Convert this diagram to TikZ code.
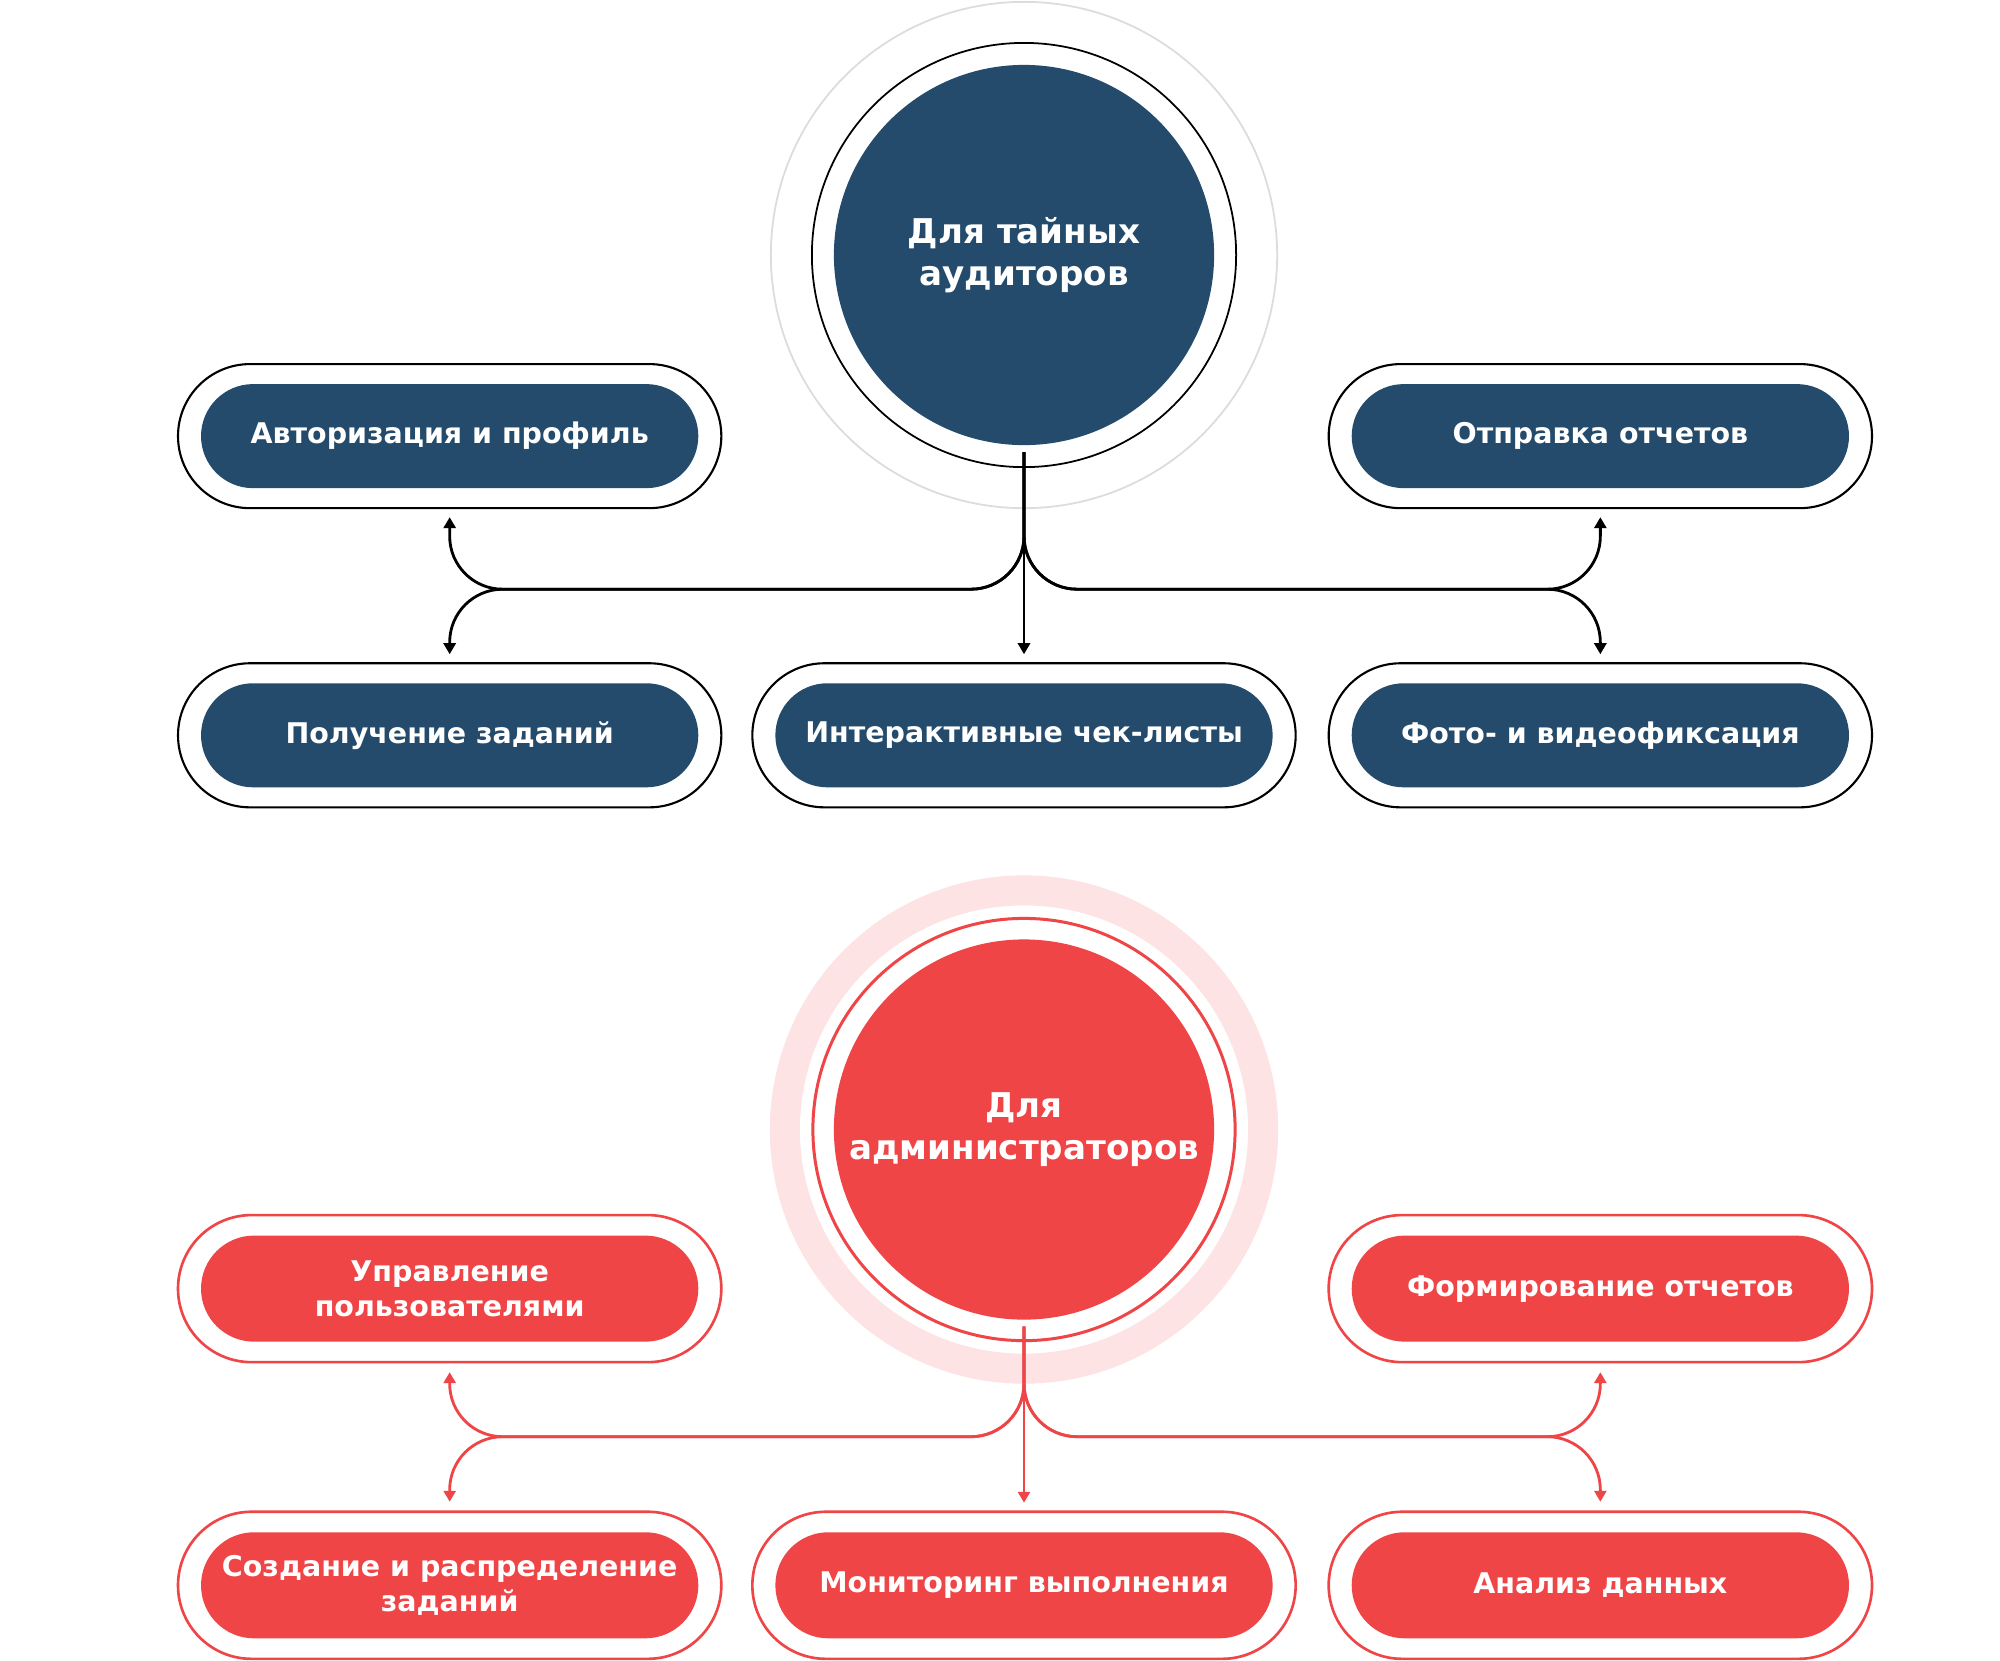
\documentclass[tikz,border=0pt]{standalone}
\usepackage{fontspec}
\setmainfont{DejaVu Sans}
\usetikzlibrary{arrows.meta,positioning}
\definecolor{navy}{HTML}{244B6B}
\definecolor{alert}{HTML}{EF4547}
\definecolor{blush}{HTML}{FDE3E4}
\definecolor{mist}{HTML}{DCDCDC}
\tikzstyle{disk} = [circle,inner sep=0,outer sep=0,minimum size=3.8cm,text=white,align=center,font=\bfseries\fontsize{9.7}{11.95}\selectfont]
\tikzstyle{ring} = [circle,inner sep=0,outer sep=0,minimum size=4.24cm]
\tikzstyle{pillout} = [rectangle,rounded corners=0.72cm,inner sep=0,outer sep=0,minimum width=5.43cm,minimum height=1.44cm,line width=0.6pt]
\tikzstyle{redout} = [pillout,draw=alert,line width=0.75pt,rounded corners=0.735cm,minimum height=1.47cm]
\tikzstyle{pillin} = [rectangle,rounded corners=0.52cm,inner sep=0,outer sep=0,minimum width=4.97cm,minimum height=1.04cm,text=white,align=center,font=\bfseries\fontsize{8.1}{9.96}\selectfont]
\tikzstyle{redin} = [pillin,fill=alert,rounded corners=0.53cm,minimum height=1.06cm]
\tikzstyle{link} = [line width=0.8pt,rounded corners=0.53cm,-{Triangle[width=0.12cm,length=0.11cm]}]

\begin{document}
\begin{tikzpicture}[x=0.01cm,y=-0.01cm]
  \fill[white] (0,0) rectangle (2000,1660);
  % auditors
  \node[ring,draw=mist,line width=0.5pt,minimum size=5.06cm] (audhalo) at (1024,255) {};
  \node[ring,draw=black,line width=0.5pt] (audring) at (audhalo) {};
  \node[disk,fill=navy] (aud) at (audhalo) {Для тайных\\аудиторов};
  \node[pillout,draw=black,below=2.18cm of aud] (chk) {};
  \node[pillout,draw=black,left=0.31cm of chk] (recv) {};
  \node[pillout,draw=black,right=0.33cm of chk] (photo) {};
  \node[pillout,draw=black,above=1.55cm of recv] (auth) {};
  \node[pillout,draw=black,above=1.55cm of photo] (send) {};
  \node[pillin,fill=navy] (authin) at (auth) {Авторизация и профиль};
  \node[pillin,fill=navy] (sendin) at (send) {Отправка отчетов};
  \node[pillin,fill=navy] (recvin) at (recv) {Получение заданий};
  \node[pillin,fill=navy] (chkin) at (chk) {Интерактивные чек-листы};
  \node[pillin,fill=navy] (photoin) at (photo) {Фото- и видеофиксация};
  \coordinate (audbus) at ([yshift=-1.44cm]aud.south);
  \draw[link,shorten <=0.07cm,shorten >=0.09cm] (aud.south) -- (chk.north);
  \foreach \tgt/\side in {auth/south,recv/north,send/south,photo/north}
    \draw[link,shorten <=0.07cm,shorten >=0.09cm] (aud.south) -- (audbus) -| (\tgt.\side);

  % admins
  \node[disk,fill=alert,below=1.32cm of chk] (adm) {Для\\администраторов};
  \node[ring,draw=blush,line width=0.3cm,minimum size=4.78cm] (admhalo) at (adm) {};
  \node[ring,draw=alert,line width=0.85pt,minimum size=4.22cm] (admring) at (adm) {};
  \node[redout,below=1.92cm of adm] (mon) {};
  \node[redout,left=0.31cm of mon] (tasks) {};
  \node[redout,right=0.33cm of mon] (data) {};
  \node[redout,above=1.495cm of tasks] (users) {};
  \node[redout,above=1.495cm of data] (report) {};
  \node[redin] (usersin) at (users) {Управление\\пользователями};
  \node[redin] (reportin) at (report) {Формирование отчетов};
  \node[redin] (tasksin) at (tasks) {Создание и распределение\\заданий};
  \node[redin] (monin) at (mon) {Мониторинг выполнения};
  \node[redin] (datain) at (data) {Анализ данных};
  \coordinate (admbus) at ([yshift=-1.17cm]adm.south);
  \draw[link,alert,shorten <=0.07cm,shorten >=0.09cm] (adm.south) -- (mon.north);
  \foreach \tgt/\side in {users/south,tasks/north,report/south,data/north}
    \draw[link,alert,shorten <=0.07cm,shorten >=0.1cm] (adm.south) -- (admbus) -| (\tgt.\side);
\end{tikzpicture}
\end{document}
